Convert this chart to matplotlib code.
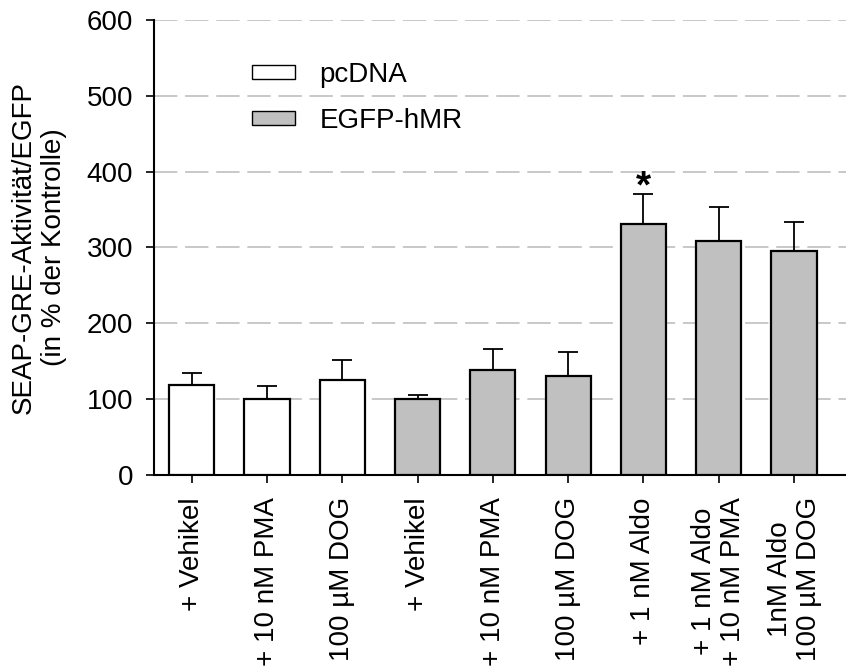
import matplotlib
matplotlib.use("Agg")
import matplotlib.pyplot as plt
from matplotlib.patches import Patch
import numpy as np

plt.rcParams['font.family'] = ['Liberation Sans', 'DejaVu Sans']

labels = ["+ Vehikel", "+ 10 nM PMA", "100 µM DOG", "+ Vehikel", "+ 10 nM PMA",
          "100 µM DOG", "+ 1 nM Aldo", "+ 1 nM Aldo\n+ 10 nM PMA", "1nM Aldo\n100 µM DOG"]
values = [119, 100, 125, 100, 138, 130, 331, 308, 295]
errors = [15, 17, 26, 5, 28, 32, 39, 46, 38]
groups = ["pcDNA", "pcDNA", "pcDNA", "EGFP-hMR", "EGFP-hMR", "EGFP-hMR",
          "EGFP-hMR", "EGFP-hMR", "EGFP-hMR"]
colors = {"pcDNA": "white", "EGFP-hMR": "#c0c0c0"}
yticks = [0, 100, 200, 300, 400, 500, 600]

FS = 20
fig = plt.figure(figsize=(8.46, 6.71), dpi=100)
ax = fig.add_axes([154/846, 1-475/671, (846-154)/846, (475-20)/671])

x = np.arange(len(values))
ax.bar(x, values, width=0.6, color=[colors[g] for g in groups], edgecolor="black",
       linewidth=1.6, zorder=3)
ax.errorbar(x, values, yerr=[np.zeros(len(errors)), errors], fmt="none", ecolor="black",
            elinewidth=1.3, capsize=7, capthick=1.3, zorder=2)
ax.text(6, 355, "*", ha="center", va="bottom", fontsize=28, fontweight="bold", zorder=4)

ax.set_ylim(0, 600)
ax.set_xlim(-0.5, 8.69)
ax.set_yticks(yticks)
ax.set_xticks(x)
ax.set_xticklabels(labels, rotation=90, ha="center", va="top", linespacing=1.15)
for y in yticks[1:]:
    ax.axhline(y, color="#c8c8c8", linestyle=(0, (12, 4)), linewidth=1.4, zorder=1)

for s in ["top", "right"]:
    ax.spines[s].set_visible(False)
ax.spines["left"].set_linewidth(1.5)
ax.spines["bottom"].set_linewidth(1.5)
ax.tick_params(axis="both", direction="out", length=6, width=1.2, labelsize=FS)
ax.tick_params(axis="y", pad=9)
ax.tick_params(axis="x", pad=10)
ax.set_ylabel("SEAP-GRE-Aktivität/EGFP\n(in % der Kontrolle)", fontsize=FS, labelpad=14, linespacing=1.2)

handles = [Patch(facecolor="white", edgecolor="black", label="pcDNA"),
           Patch(facecolor="#c0c0c0", edgecolor="black", label="EGFP-hMR")]
leg = ax.legend(handles=handles, loc="upper left", bbox_to_anchor=(0.117, 0.944), frameon=False,
                fontsize=FS, handlelength=1.55, handleheight=0.37, handletextpad=0.9,
                labelspacing=0.72, borderaxespad=0.2)

fig.savefig("out.png", dpi=100)
